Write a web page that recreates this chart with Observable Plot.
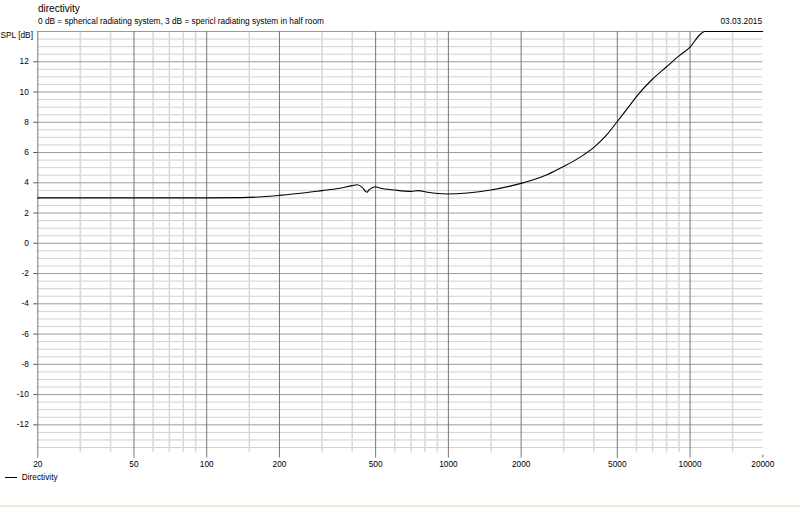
<!DOCTYPE html>
<html>
<head>
<meta charset="utf-8">
<script src="https://cdn.jsdelivr.net/npm/d3@7"></script>
<script src="https://cdn.jsdelivr.net/npm/@observablehq/plot@0.6"></script>
<style>
  body { margin: 0; background: white; font-family: "Liberation Sans", Arial, sans-serif; }
  #wrap { width: 800px; position: relative; }
  #head, #foot { position: relative; width: 800px; }
  .t { position: absolute; white-space: nowrap; color: #000; }
</style>
</head>
<body>
<div id="wrap">
  <div id="head" style="height:27px">
    <div class="t" style="left:38px;top:3.5px;font-size:10px;line-height:10px">directivity</div>
    <div class="t" style="left:38px;top:17px;font-size:8.3px;line-height:8.3px">0 dB = spherical radiating system, 3 dB = spericl radiating system in half room</div>
    <div class="t" style="right:38px;top:17px;font-size:8.3px;line-height:8.3px">03.03.2015</div>
  </div>
  <div id="chart"></div>
  <div id="foot" style="height:35px">
    <div class="t" style="left:5px;top:7px;width:12px;height:1px;background:#000"></div>
    <div class="t" style="left:21.7px;top:2.7px;font-size:8.3px;line-height:8.3px">Directivity</div>
  </div>
  <div style="height:2px;background:#ECE9D8"></div>
</div>
<script>
// directivity curve
const freq = [20, 50, 100, 140, 170, 200, 250, 300, 350, 400, 420, 440, 460, 470, 500, 520, 600, 700, 750, 820, 980, 1200, 1500, 1800, 2000, 2200, 2560, 3000, 3500, 4000, 4500, 5000, 5500, 6000, 7000, 8000, 9000, 10000, 11000, 11500, 20000];
const spl  = [3.0, 3.0, 3.0, 3.02, 3.08, 3.17, 3.32, 3.48, 3.62, 3.81, 3.87, 3.7, 3.37, 3.55, 3.74, 3.66, 3.52, 3.43, 3.48, 3.37, 3.26, 3.32, 3.52, 3.78, 3.96, 4.15, 4.53, 5.08, 5.68, 6.34, 7.13, 8.05, 8.9, 9.7, 10.86, 11.67, 12.39, 12.97, 13.8, 14, 14];

const xTicks = [20, 50, 100, 200, 500, 1000, 2000, 5000, 10000, 20000];
const xMinor = [30, 40, 60, 70, 80, 90, 150, 300, 400, 600, 700, 800, 900, 1500, 3000, 4000, 6000, 7000, 8000, 9000, 15000];
const yTicks = d3.range(-12, 13, 2);
const yMajor = d3.range(-12, 15, 2);
const yMinor = d3.range(-13.5, 14, 0.5).filter(v => v % 2 !== 0);

const data = freq.map((f, i) => ({f, v: spl[i]}));

const chart = Plot.plot({
  width: 800,
  height: 443,
  marginLeft: 37.3,
  marginRight: 37.7,
  marginTop: 4,
  marginBottom: 15.4,
  x: {type: 'log', domain: [20, 20000], label: null, axis: null},
  y: {domain: [-14, 14], label: null, axis: null},
  style: {
    fontFamily: '"Liberation Sans", Arial, sans-serif',
    fontSize: '8.3px',
    background: 'white',
    color: 'black',
  },
  marks: [
    Plot.ruleY(yMinor, {x1: 20, x2: 20000, stroke: '#d2d2d2', strokeWidth: 1}),
    Plot.ruleX(xMinor, {y1: 14, y2: -13.85, stroke: '#dadada', strokeWidth: 1.6}),
    Plot.ruleY(yMajor, {x1: 20, x2: 20000, stroke: '#9c9c9c', strokeWidth: 1}),
    // labelled frequencies: grid line plus a short tick below the frame
    Plot.ruleX(xTicks.slice(0, -1), {y1: 14, y2: -14, insetBottom: -3, stroke: '#777', strokeWidth: 1}),
    Plot.ruleX([20000], {y1: -14, y2: -14, insetBottom: -3, stroke: '#777', strokeWidth: 1}),
    Plot.text(xTicks, {x: d => d, frameAnchor: 'bottom', dy: 6.4, lineAnchor: 'top', text: d => String(d)}),
    Plot.line(data, {x: 'f', y: 'v', stroke: '#000', strokeWidth: 1.1, curve: 'monotone-x'}),
    Plot.axisY(yTicks, {tickSize: 4, tickPadding: 5, tickFormat: d => String(d), stroke: '#555', label: null}),
    Plot.text(['SPL [dB]'], {frameAnchor: 'top-left', dx: -37.3, dy: 6, textAnchor: 'start', lineAnchor: 'bottom'}),
  ],
})
d3.select('#chart').append(() => chart)
</script>
</body>
</html>
